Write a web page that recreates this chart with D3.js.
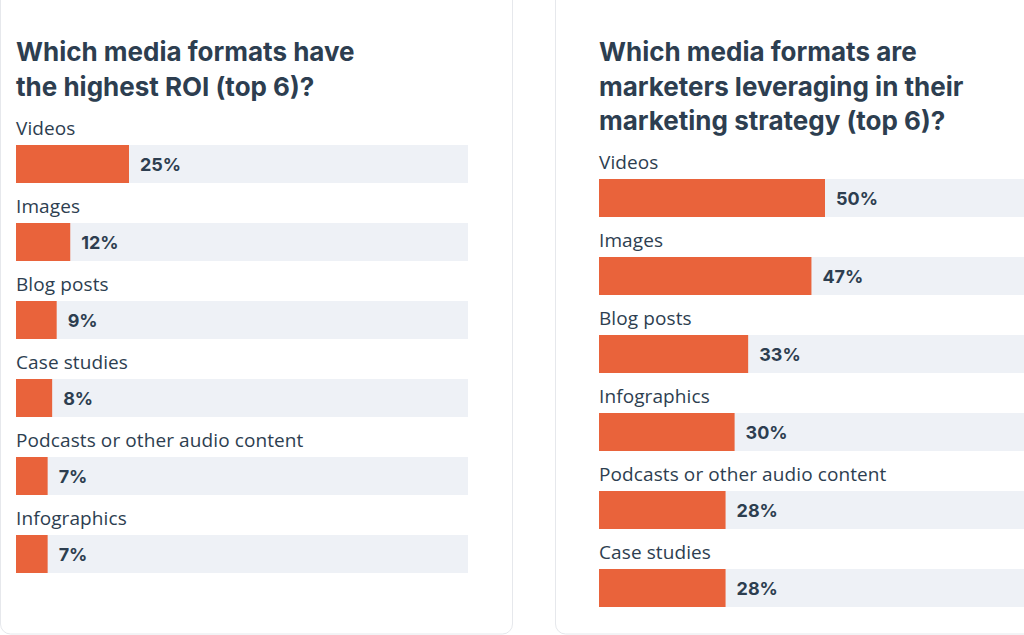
<!DOCTYPE html>
<html><head><meta charset="utf-8">
<script src="https://cdn.jsdelivr.net/npm/d3@7"></script>
<style>body{margin:0;background:#fff;font-family:"Open Sans",Lato,sans-serif;}</style>
</head><body>
<svg id="chart" width="1024" height="635"></svg>
<script>
// left panel data
const roiCategories = ['Videos', 'Images', 'Blog posts', 'Case studies', 'Podcasts or other audio content', 'Infographics'];
const roiValues = [25, 12, 9, 8, 7, 7];
const roiTitle = ['Which media formats have', 'the highest ROI (top 6)?'];

// right panel data
const useCategories = ['Videos', 'Images', 'Blog posts', 'Infographics', 'Podcasts or other audio content', 'Case studies'];
const useValues = [50, 47, 33, 30, 28, 28];
const useTitle = ['Which media formats are', 'marketers leveraging in their', 'marketing strategy (top 6)?'];

const svg = d3.select('#chart');
const ORANGE = '#e9633b', TRACK = '#eef1f6', INK = '#2d3e50';

// panel borders
svg.append('rect').attr('x', 0.5).attr('y', -10).attr('width', 512).attr('height', 644)
  .attr('rx', 10).attr('fill', 'none').attr('stroke', '#e6e8ec');
svg.append('rect').attr('x', 555.5).attr('y', -10).attr('width', 520).attr('height', 644)
  .attr('rx', 10).attr('fill', 'none').attr('stroke', '#e6e8ec');

function panel(x0, titleLines, cats, vals, firstLabelY) {
  const g = svg.append('g');
  g.selectAll('text.title').data(titleLines).enter().append('text')
    .attr('x', x0).attr('y', (d, i) => 61 + i * 34.5)
    .attr('font-size', 26).attr('font-weight', 700).attr('fill', INK)
    .attr('font-family', 'Inter, "Open Sans", sans-serif').text(d => d);

  const x = d3.scaleLinear().domain([0, 100]).range([x0, x0 + 452]);
  const y = d3.scaleBand().domain(cats).range([firstLabelY, firstLabelY + 78 * cats.length]);

  const row = g.selectAll('g.row').data(cats).enter().append('g');
  row.append('text').attr('x', x0).attr('y', d => y(d) + 7)
    .attr('font-size', 19).attr('letter-spacing', 0.1).attr('fill', INK).text(d => d);
  row.append('rect').attr('x', x0).attr('y', d => y(d) + 17)
    .attr('width', 452).attr('height', 38).attr('fill', TRACK);
  row.append('rect').attr('x', x0).attr('y', d => y(d) + 17)
    .attr('width', (d, i) => x(vals[i]) - x0).attr('height', 38).attr('fill', ORANGE);
  row.append('text').attr('x', (d, i) => x(vals[i]) + 11).attr('y', d => y(d) + 43)
    .attr('font-size', 18).attr('font-weight', 700).attr('fill', INK)
    .attr('font-family', 'Inter, "Open Sans", sans-serif')
    .text((d, i) => vals[i] + '%');
}

panel(16, roiTitle, roiCategories, roiValues, 128);
panel(599, useTitle, useCategories, useValues, 162);
</script>
</body></html>
